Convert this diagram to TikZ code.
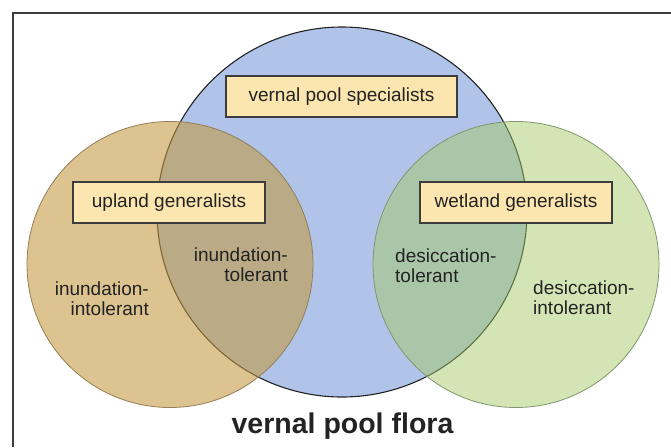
\documentclass[tikz,border=0pt]{standalone}
\usepackage{fontspec}
\setmainfont{Liberation Sans}
\usepackage{tikz}
\usetikzlibrary{positioning}
\definecolor{poolblue}{RGB}{175,196,232}
\definecolor{uplandtan}{RGB}{195,152,64}
\definecolor{wetgreen}{RGB}{165,202,100}
\definecolor{tanline}{RGB}{150,125,85}
\definecolor{greenline}{RGB}{130,150,110}
\definecolor{labelfill}{RGB}{252,230,176}
\definecolor{framegray}{RGB}{60,60,60}
\definecolor{inkgray}{RGB}{35,35,35}
\tikzset{box/.style = {draw = framegray, line width = 1.2, fill = labelfill,
                       inner sep = 0, minimum height = 41, text = inkgray,
                       font = \fontsize{19}{19.5}\selectfont}}
\tikzset{lbl/.style = {inner sep = 0, text = inkgray,
                       font = \fontsize{19}{19.5}\selectfont}}

\begin{document}
\begin{tikzpicture}[x = 1pt, y = -1pt]
      \useasboundingbox [fill = white] (0, 0) rectangle (671, 447);
      \draw [framegray, line width = 1.5] (13, 447) -- (13, 13) -- (671, 13);
      % the three pools
      \filldraw [fill = poolblue, draw = inkgray, line width = 1.1] (342, 212) circle (185);
      \filldraw [fill = uplandtan, fill opacity = 0.58, draw = tanline, line width = 0.8] (170, 264.5) circle (143);
      \filldraw [fill = wetgreen, fill opacity = 0.48, draw = greenline, line width = 0.8] (516, 264.5) circle (143);
      \node [box, minimum width = 231] (spec) at (341.5, 96.5) {vernal pool specialists};
      \node [box, minimum width = 192] (upland) at (169, 202.5) {upland generalists};
      \node [box, minimum width = 192] (wetland) at (516, 202.5) {wetland generalists};
      \node [lbl, align = right, anchor = north east] (inintol) at (149, 282) {inundation-\\intolerant};
      \node [lbl, align = right, anchor = north east] (intol) at (288, 248) {inundation-\\tolerant};
      \node [lbl, align = left, anchor = north west] (destol) at (395, 249) {desiccation-\\tolerant};
      \node [lbl, align = left, anchor = north west] (desintol) at (533, 281) {desiccation-\\intolerant};
      \node [anchor = base, text = inkgray, font = \bfseries\fontsize{28.5}{30}\selectfont] (flora) at (342.5, 433) {vernal pool flora};
    \end{tikzpicture}
\end{document}
